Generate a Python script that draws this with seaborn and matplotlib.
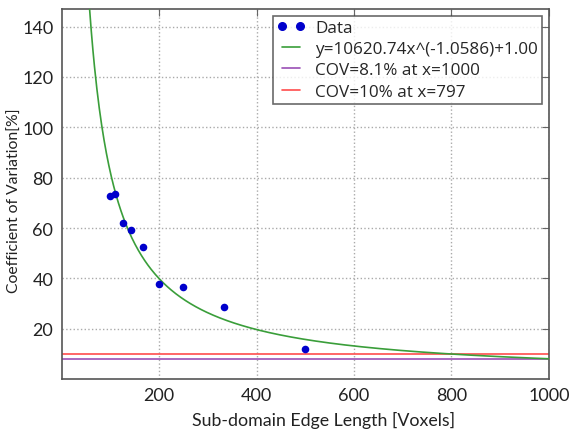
import numpy as np
import pandas as pd
import matplotlib
matplotlib.use("Agg")
import matplotlib.pyplot as plt
from matplotlib.lines import Line2D
import seaborn as sns

# Data
edge_length = [100, 110, 125, 142, 166, 200, 250, 333, 500]
cov_values = [72.6, 73.4, 61.9, 59.1, 52.3, 37.7, 36.6, 28.6, 11.9]

# Fit parameters (from legend): y = a * x^b + c
fit_a = 10620.74
fit_b = -1.0586
fit_c = 1.00
cov_at_1000 = 8.1
cov_10 = 10.0

x_ticks = [200, 400, 600, 800, 1000]
y_ticks = [20, 40, 60, 80, 100, 120, 140]

sns.set_style("white")
plt.rcParams['font.family'] = ['Lato', 'DejaVu Sans']

fig = plt.figure(figsize=(5.76, 4.31), dpi=100)
ax = fig.add_axes([0.107, 0.118, 0.846, 0.859])

df = pd.DataFrame({"x": edge_length, "y": cov_values})
fit_x = np.linspace(20, 1000, 600)
fit_df = pd.DataFrame({"x": fit_x, "y": fit_a * fit_x ** fit_b + fit_c})

sns.lineplot(data=fit_df, x="x", y="y", ax=ax, color="#3a9e3a", lw=1.2,
             label="y=10620.74x^(-1.0586)+1.00", zorder=3)
ax.axhline(cov_at_1000, color="#9a4fb5", lw=1.2, label="COV=8.1% at x=1000", zorder=2)
ax.axhline(cov_10, color="#ff4d4d", lw=1.2, label="COV=10% at x=797", zorder=2)
sns.scatterplot(data=df, x="x", y="y", ax=ax, color="#0000cc", s=30,
                edgecolor="#0000cc", linewidth=0, label="Data", zorder=4)

ax.set_xlim(0, 1000)
ax.set_ylim(0, 147)
ax.set_xticks(x_ticks)
ax.set_yticks(y_ticks)
ax.tick_params(direction="in", top=True, right=True, length=5, color="#666666",
               labelsize=13, labelcolor="#222222", pad=6)
ax.grid(True, linestyle=":", color="#aaaaaa", lw=1.0)
for s in ax.spines.values():
    s.set_color("#555555")
    s.set_linewidth(1.2)

ax.set_xlabel("Sub-domain Edge Length [Voxels]", fontsize=12.8, color="#222222")
ax.set_ylabel("Coefficient of Variation[%]", fontsize=11.3, color="#222222")
ax.xaxis.set_label_coords(0.538, -0.085)
ax.yaxis.set_label_coords(-0.082, 0.484)

handles, labels = ax.get_legend_handles_labels()
order = [labels.index("Data"), labels.index("y=10620.74x^(-1.0586)+1.00"),
         labels.index("COV=8.1% at x=1000"), labels.index("COV=10% at x=797")]
data_handle = Line2D([0], [0], ls="none", marker="o", color="#0000cc", markersize=5.5)
hs = [data_handle] + [handles[i] for i in order[1:]]
ls = [labels[i] for i in order]
leg = ax.legend(hs, ls, loc="upper right", numpoints=2,
                prop={"family": ["Open Sans", "DejaVu Sans"], "size": 12.3},
                frameon=True, fancybox=False, edgecolor="#444444",
                handlelength=1.6, handletextpad=0.6, borderpad=0.25,
                labelspacing=0.3, borderaxespad=0,
                bbox_to_anchor=(0.9856, 0.981))
leg.get_frame().set_linewidth(1.2)

fig.savefig("out.png", dpi=100)
